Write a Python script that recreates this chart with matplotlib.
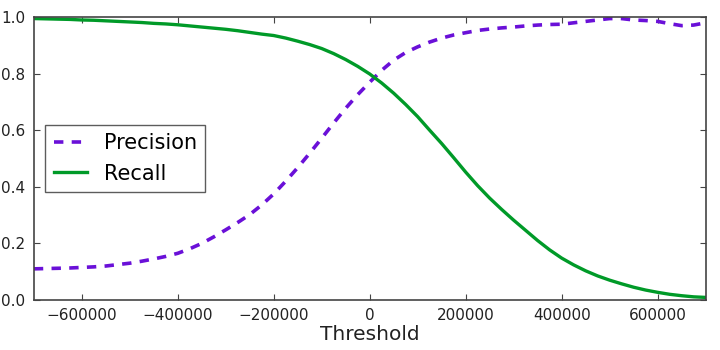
import numpy as np
import matplotlib
matplotlib.use('Agg')
import matplotlib.pyplot as plt


purple = '#6a10d8'
green  = '#009a28'

# decision thresholds and the precision / recall measured at each
thresholds = np.arange(-700000, 700001, 25000)
precisions = [0.110, 0.111, 0.112, 0.113, 0.115, 0.117, 0.120, 0.125, 0.130,
              0.137, 0.145, 0.154, 0.165, 0.181, 0.200, 0.223, 0.248, 0.274,
              0.302, 0.336, 0.375, 0.420, 0.468, 0.519, 0.572, 0.626, 0.678,
              0.726, 0.770, 0.812, 0.848, 0.875, 0.895, 0.912, 0.926, 0.937,
              0.945, 0.953, 0.958, 0.962, 0.965, 0.969, 0.972, 0.974, 0.975,
              0.980, 0.985, 0.990, 0.995, 0.995, 0.990, 0.988, 0.985, 0.977,
              0.970, 0.972, 0.980]
recalls    = [0.995, 0.994, 0.993, 0.992, 0.990, 0.989, 0.987, 0.985, 0.983,
              0.981, 0.978, 0.976, 0.973, 0.969, 0.965, 0.961, 0.957, 0.952,
              0.946, 0.940, 0.935, 0.926, 0.915, 0.903, 0.889, 0.871, 0.850,
              0.826, 0.799, 0.767, 0.731, 0.691, 0.648, 0.600, 0.553, 0.503,
              0.452, 0.404, 0.360, 0.320, 0.282, 0.246, 0.210, 0.177, 0.148,
              0.124, 0.103, 0.085, 0.070, 0.057, 0.045, 0.035, 0.027, 0.020,
              0.015, 0.011, 0.009]

xticks = [-600000, -400000, -200000, 0, 200000, 400000, 600000]
yticks = [0.0, 0.2, 0.4, 0.6, 0.8, 1.0]


def plot_precision_recall(fname):
    fig = plt.figure(figsize=[7.2, 3.5], dpi=100)
    ax = fig.add_axes([0.047, 0.143, 0.933, 0.808])

    ax.plot(thresholds, precisions, '--', color=purple, lw=2.6,
            dashes=(2.6, 2.3), label='Precision')
    ax.plot(thresholds, recalls, '-', color=green, lw=2.4, label='Recall')

    ax.set_xlim([-700000, 700000])
    ax.set_ylim([0, 1])
    ax.set_xticks(xticks)
    ax.set_yticks(yticks)
    ax.tick_params(direction='in', top=True, right=True, labelsize=11,
                   length=4, color='#444444', labelcolor='#222222', pad=6)
    for s in ax.spines.values():
        s.set_color('#444444')
        s.set_linewidth(1.2)

    ax.set_xlabel('Threshold', fontsize=14.5, color='#222222', labelpad=1)
    leg = ax.legend(loc='center left', fontsize=15, handlelength=1.6,
                    fancybox=False, borderaxespad=0.55)
    leg.get_frame().set_edgecolor('#333333')
    leg.get_frame().set_linewidth(1.0)

    print('Saving ' + fname)
    plt.savefig(fname)
    plt.close()


if __name__ == '__main__':
    plot_precision_recall('out.png')
